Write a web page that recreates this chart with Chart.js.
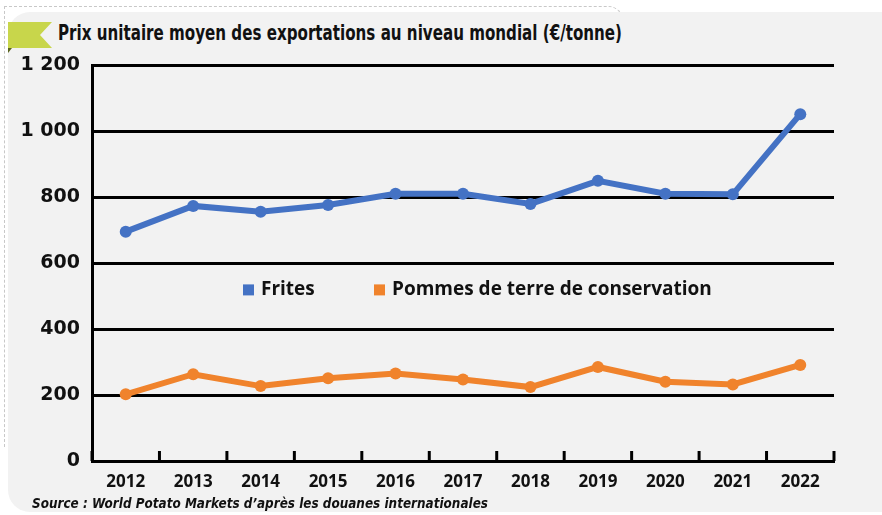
<!DOCTYPE html>
<html>
<head>
<meta charset="utf-8">
<script src="https://cdn.jsdelivr.net/npm/chart.js@4.4.0/dist/chart.umd.min.js"></script>
<style>
    html, body { margin: 0; padding: 0; background: #ffffff; }
    #wrap { position: relative; width: 882px; height: 515px; overflow: hidden; }
    #ghost {
        position: absolute; left: 4px; top: 6px; width: 618px; height: 440px;
        border-top: 1px dashed #c8c8c8; border-left: 1px dashed #c8c8c8;
        border-top-right-radius: 16px; border-right: 1px dashed #c8c8c8;
        border-bottom: none;
    }
    #card {
        position: absolute; left: 8px; top: 12px; width: 900px; height: 500px;
        background: #f2f2f2; border-radius: 22px;
    }
    #flag { position: absolute; left: 8px; top: 22px; }
    .squeeze { position: absolute; white-space: nowrap; transform-origin: 0 0; color: #111; }
    #title {
        left: 58px; top: 21px;
        font: bold 21px 'DejaVu Sans', sans-serif;
    }
    #source {
        left: 32px; top: 495px;
        font: italic bold 14px 'DejaVu Sans', sans-serif;
    }
    canvas { position: absolute; left: 0; top: 0; }
</style>
</head>
<body>
<div id="wrap">
    <div id="ghost"></div>
    <div id="card"></div>
    <svg id="flag" width="46" height="32">
        <polygon points="0,0 44,0 32,13 44,26 0,26" fill="#c8d64b"/>
        <polygon points="0,26 4,26 0,31" fill="#5a6420"/>
    </svg>
    <div id="title" class="squeeze" data-w="564">Prix unitaire moyen des exportations au niveau mondial (€/tonne)</div>
    <canvas id="chart" width="882" height="515"></canvas>
    <div id="source" class="squeeze" data-w="456">Source : World Potato Markets d’après les douanes internationales</div>
</div>
<script>
const years = ['2012', '2013', '2014', '2015', '2016', '2017', '2018', '2019', '2020', '2021', '2022'];
const frites = [695, 773, 755, 776, 810, 810, 779, 849, 810, 808, 1051];
const pommesConservation = [202, 263, 227, 251, 265, 247, 224, 285, 240, 232, 291];
const seriesNames = ['Frites', 'Pommes de terre de conservation'];

const BLUE = '#4472c4';
const ORANGE = '#f0832c';

// condensed look for the title and source lines
document.querySelectorAll('.squeeze').forEach(el => {
    const w = el.getBoundingClientRect().width;
    el.style.transform = 'scaleX(' + (el.dataset.w / w) + ')';
});

// Tick marks on the x axis point up into the plot
const innerTicks = {
    id: 'innerTicks',
    afterDraw(chart) {
        const ctx = chart.ctx;
        const x = chart.scales.x;
        const bottom = chart.chartArea.bottom;
        ctx.save();
        ctx.strokeStyle = '#000';
        ctx.lineWidth = 3;
        for (let i = 0; i <= years.length; i++) {
            const px = x.getPixelForValue(i - 0.5);
            ctx.beginPath();
            ctx.moveTo(px, bottom);
            ctx.lineTo(px, bottom - 10);
            ctx.stroke();
        }
        ctx.restore();
    }
};

// Legend drawn inside the plot area
const innerLegend = {
    id: 'innerLegend',
    afterDraw(chart) {
        const ctx = chart.ctx;
        const y = chart.scales.y.getPixelForValue(520);
        const items = [{ x: 243 }, { x: 374 }];
        ctx.save();
        ctx.font = 'bold 19px "Open Sans", sans-serif';
        ctx.textBaseline = 'middle';
        chart.data.datasets.forEach((ds, i) => {
            ctx.fillStyle = ds.borderColor;
            ctx.fillRect(items[i].x, y - 5, 11, 11);
            ctx.fillStyle = '#111';
            ctx.fillText(ds.label, items[i].x + 18, y);
        });
        ctx.restore();
    }
};

new Chart(document.getElementById('chart'), {
    type: 'line',
    data: {
        labels: years,
        datasets: [{
            label: seriesNames[0],
            data: frites,
            borderColor: BLUE,
            backgroundColor: BLUE,
            borderWidth: 6,
            pointRadius: 6,
            pointHoverRadius: 6,
            pointBorderWidth: 0
        }, {
            label: seriesNames[1],
            data: pommesConservation,
            borderColor: ORANGE,
            backgroundColor: ORANGE,
            borderWidth: 6,
            pointRadius: 6,
            pointHoverRadius: 6,
            pointBorderWidth: 0
        }]
    },
    options: {
        responsive: false,
        animation: false,
        layout: { padding: { left: 0, top: 65, right: 48, bottom: 0 } },
        plugins: {
            legend: { display: false },
            tooltip: { enabled: false }
        },
        scales: {
            x: {
                offset: true,
                grid: { display: false, offset: true },
                border: { display: true, color: '#000', width: 3 },
                ticks: {
                    color: '#111',
                    padding: 3,
                    font: { family: 'Open Sans', size: 17, weight: 'bold' }
                },
                afterFit(scale) { scale.height = 54; }
            },
            y: {
                min: 0,
                max: 1200,
                ticks: {
                    stepSize: 200,
                    color: '#111',
                    padding: 12,
                    font: { family: 'DejaVu Sans', size: 19, weight: 'bold' },
                    callback: v => String(v).replace(/\B(?=(\d{3})+$)/, ' ')
                },
                grid: { color: '#000', lineWidth: 3, drawTicks: false },
                border: { display: true, color: '#000', width: 3 },
                afterFit(scale) { scale.width = 92; }
            }
        }
    },
    plugins: [innerTicks, innerLegend]
});
</script>
</body>
</html>
